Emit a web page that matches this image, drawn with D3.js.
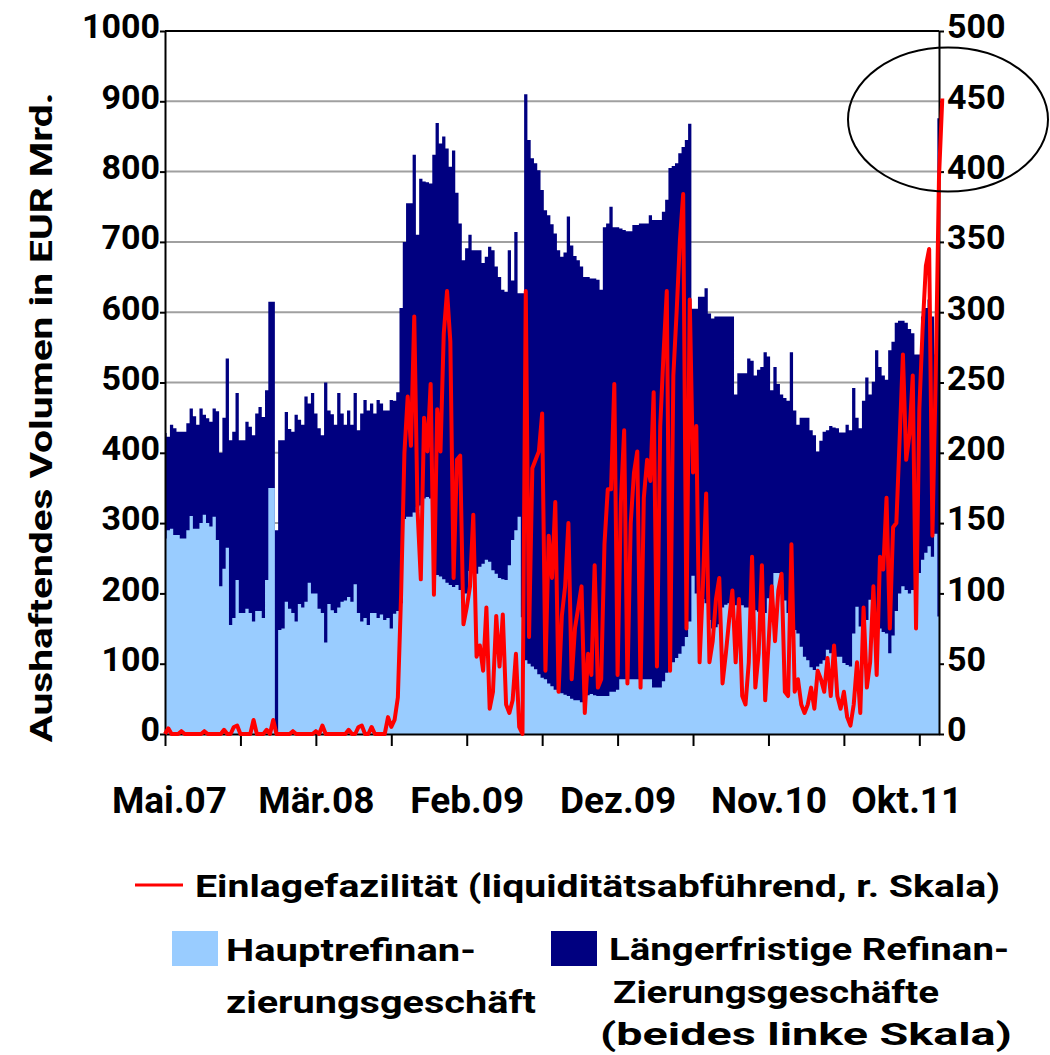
<!DOCTYPE html>
<meta charset="utf-8">

<!-- Load d3.js -->
<script src="https://d3js.org/d3.v7.min.js"></script>

<style>
  body { margin: 0; background: #fff; }
  svg text { font-family: Roboto, "Liberation Sans", sans-serif; font-weight: bold; fill: #000; }
</style>

<!-- Create a div where the graph will take place -->
<div id="my_dataviz"></div>

<script>
// weekly readings, May 2007 .. Dec 2011 (one value per week)
// top of the stack: Hauptrefinanzierung + laengerfristige Geschaefte (EUR Mrd., left scale)
var refiGesamt = [
  428, 423, 440, 435, 430, 430, 430, 442, 463, 452,
  440, 463, 454, 449, 444, 463, 459, 400, 450, 534,
  418, 430, 485, 418, 418, 444, 437, 425, 456, 465,
  451, 489, 615, 615, 290, 418, 418, 458, 434, 430,
  454, 447, 440, 480, 470, 485, 456, 435, 425, 500,
  460, 455, 440, 485, 456, 440, 460, 440, 485, 432,
  456, 475, 460, 470, 456, 475, 470, 460, 460, 475,
  474, 486, 606, 700, 755, 755, 824, 710, 790, 786,
  785, 783, 824, 869, 840, 850, 833, 807, 830, 770,
  726, 674, 691, 710, 688, 688, 688, 670, 679, 693,
  688, 665, 650, 632, 629, 688, 645, 714, 627, 627,
  910, 845, 819, 812, 802, 774, 745, 738, 725, 712,
  688, 679, 685, 736, 695, 680, 674, 665, 650, 650,
  648, 648, 646, 632, 721, 726, 750, 721, 721, 719,
  717, 715, 715, 724, 724, 726, 726, 726, 738, 731,
  731, 731, 743, 760, 805, 808, 812, 826, 835, 845,
  868, 605, 605, 622, 622, 634, 598, 591, 594, 594,
  594, 594, 594, 594, 483, 513, 513, 513, 534, 531,
  510, 518, 522, 543, 537, 489, 522, 498, 483, 478,
  474, 543, 460, 440, 450, 450, 450, 432, 425, 402,
  417, 430, 432, 438, 436, 435, 429, 429, 440, 432,
  492, 450, 435, 474, 507, 483, 501, 546, 522, 510,
  504, 546, 558, 585, 588, 588, 585, 576, 570, 540,
  540, 594, 606, 618, 594, 540, 876
];

// Hauptrefinanzierungsgeschaeft (EUR Mrd., left scale)
var hauptRefi = [
  278, 290, 292, 283, 283, 278, 278, 290, 310, 292,
  292, 300, 312, 300, 295, 309, 276, 210, 235, 265,
  155, 165, 219, 172, 172, 178, 172, 160, 175, 175,
  165, 219, 350, 350, 3, 148, 150, 188, 178, 172,
  160, 185, 180, 188, 215, 200, 200, 178, 172, 130,
  185, 176, 172, 180, 188, 190, 195, 188, 213, 172,
  160, 165, 155, 172, 172, 165, 170, 162, 165, 150,
  171, 175, 186, 306, 309, 309, 315, 323, 325, 335,
  337, 335, 230, 226, 224, 220, 215, 212, 209, 212,
  205, 200, 200, 232, 236, 228, 238, 242, 248, 245,
  233, 228, 222, 220, 219, 240, 276, 290, 309, 166,
  105, 100, 96, 92, 85, 80, 78, 72, 68, 63,
  60, 58, 56, 54, 50, 48, 48, 45, 45, 55,
  57, 55, 54, 54, 54, 54, 60, 60, 63, 78,
  78, 78, 78, 78, 78, 78, 78, 78, 78, 66,
  66, 66, 75, 87, 95, 102, 108, 114, 125, 138,
  160, 225, 200, 198, 192, 186, 162, 150, 152, 156,
  180, 184, 186, 184, 183, 183, 183, 180, 180, 178,
  176, 174, 172, 172, 193, 193, 229, 229, 219, 190,
  172, 160, 148, 143, 124, 110, 105, 95, 91, 96,
  100, 105, 120, 115, 112, 110, 110, 101, 98, 96,
  143, 181, 153, 158, 162, 191, 160, 153, 150, 145,
  143, 115, 140, 175, 200, 210, 205, 200, 205, 215,
  229, 248, 258, 267, 252, 285, 167
];

// Einlagefazilitaet (EUR Mrd., right scale)
var einlage = [
  0, 4, 0, 0, 0, 2, 0, 0, 0, 0,
  0, 0, 2, 0, 0, 0, 0, 0, 3, 0,
  0, 5, 6, 0, 0, 0, 0, 10, 0, 0,
  0, 3, 0, 10, 0, 0, 0, 0, 0, 2,
  0, 0, 0, 0, 0, 0, 2, 0, 6, 0,
  0, 0, 0, 0, 0, 0, 3, 0, 0, 5,
  6, 0, 0, 5, 0, 0, 0, 0, 12, 5,
  10, 26, 100, 200, 240, 205, 297, 159, 110, 225,
  201, 249, 99, 231, 201, 285, 315, 279, 111, 195,
  198, 78, 90, 105, 156, 55, 63, 45, 90, 18,
  30, 84, 48, 85, 21, 15, 24, 57, 5, 0,
  315, 69, 189, 195, 201, 228, 45, 141, 111, 165,
  30, 84, 105, 150, 39, 75, 90, 105, 15, 57,
  42, 120, 33, 39, 135, 174, 174, 249, 42, 165,
  216, 36, 150, 186, 201, 33, 168, 195, 180, 243,
  48, 219, 270, 315, 45, 255, 300, 351, 384, 75,
  309, 186, 219, 51, 105, 171, 51, 66, 96, 111,
  36, 57, 81, 102, 51, 96, 27, 21, 51, 126,
  33, 57, 120, 24, 63, 105, 66, 102, 114, 30,
  27, 135, 30, 39, 21, 15, 21, 33, 18, 45,
  39, 30, 54, 27, 63, 27, 18, 30, 12, 6,
  21, 51, 15, 90, 33, 51, 105, 42, 126, 117,
  168, 75, 147, 150, 210, 270, 195, 213, 255, 75,
  231, 288, 333, 345, 141, 255, 396, 452
];

// x axis: a tick every 23 weeks, a label every second tick
var xTickWeeks = [0, 23, 46, 69, 92, 115, 138, 161, 184, 207, 230];
var xLabelWeeks = [0, 46, 92, 138, 184, 230];
var xLabels = ["Mai.07", "Mär.08", "Feb.09", "Dez.09", "Nov.10", "Okt.11"];

var leftTicks = [0, 100, 200, 300, 400, 500, 600, 700, 800, 900, 1000];
var rightTicks = [0, 50, 100, 150, 200, 250, 300, 350, 400, 450, 500];

// set the dimensions and margins of the graph
var margin = {top: 31, right: 111, bottom: 321, left: 165},
    width = 1050 - margin.left - margin.right,
    height = 1055 - margin.top - margin.bottom;

var root = d3.select("#my_dataviz")
  .append("svg")
    .attr("width", 1050)
    .attr("height", 1055);

var svg = root.append("g")
    .attr("transform", "translate(" + margin.left + "," + margin.top + ")");

var x = d3.scaleLinear().domain([0, refiGesamt.length - 1]).range([0, width]);
var yL = d3.scaleLinear().domain([0, 1000]).range([height, 0]);
var yR = d3.scaleLinear().domain([0, 500]).range([height, 0]);

// grid lines
svg.selectAll(".grid")
  .data(leftTicks.slice(1, -1))
  .enter().append("line")
    .attr("x1", 0).attr("x2", width)
    .attr("y1", function(d) { return yL(d); })
    .attr("y2", function(d) { return yL(d); })
    .attr("stroke", "#a0a0a0")
    .attr("stroke-width", 2);

// areas: dark = whole stack, light = MRO drawn over it
var area = d3.area()
  .x(function(d, i) { return x(i); })
  .y0(height)
  .y1(function(d) { return yL(d); })
  .curve(d3.curveStep);

svg.append("path").datum(refiGesamt)
  .attr("d", area).attr("fill", "#000080");
svg.append("path").datum(hauptRefi)
  .attr("d", area).attr("fill", "#99ccff");

// top border of plot
svg.append("line")
  .attr("x1", 0).attr("x2", width).attr("y1", 0).attr("y2", 0)
  .attr("stroke", "#000").attr("stroke-width", 2);

function styleAxis(g) {
  g.selectAll("path, line").attr("stroke", "#000").attr("stroke-width", 2);
  g.selectAll("text")
    .attr("font-family", null)
    .style("font-size", "34px");
}

// left axis
svg.append("g")
  .call(d3.axisLeft(yL).tickValues(leftTicks).tickFormat(d3.format("d"))
    .tickSize(5).tickSizeOuter(0).tickPadding(0))
  .call(styleAxis)
  .selectAll("text").attr("dy", "0.2em");

// right axis
svg.append("g")
  .attr("transform", "translate(" + width + ",0)")
  .call(d3.axisRight(yR).tickValues(rightTicks).tickFormat(d3.format("d"))
    .tickSize(5).tickSizeOuter(0).tickPadding(3))
  .call(styleAxis)
  .selectAll("text").attr("dy", "0.2em");

// bottom axis
var xAxis = svg.append("g")
  .attr("transform", "translate(0," + height + ")")
  .call(d3.axisBottom(x).tickValues(xTickWeeks).tickSize(12).tickSizeOuter(0).tickPadding(41)
    .tickFormat(function(d) {
      var k = xLabelWeeks.indexOf(d);
      return k < 0 ? "" : xLabels[k];
    }))
  .call(styleAxis);
xAxis.selectAll("text").style("font-size", "37px")
  .attr("dx", function(d) { return d === 0 ? 4 : (d === 230 ? -13 : 0); });

// deposit facility line (right scale)
var line = d3.line()
  .x(function(d, i) { return x(i); })
  .y(function(d) { return yR(d); });

svg.append("path").datum(einlage)
  .attr("d", line)
  .attr("fill", "none")
  .attr("stroke", "#ff0000")
  .attr("stroke-width", 4)
  .attr("stroke-linejoin", "round");

// circle marking the year-end spike
svg.append("ellipse")
  .attr("cx", x(einlage.length - 2) + 9)
  .attr("cy", yR(437))
  .attr("rx", 100).attr("ry", 72)
  .attr("fill", "none")
  .attr("stroke", "#000")
  .attr("stroke-width", 2);

// y axis title
root.append("text")
  .attr("transform", "translate(52," + (margin.top + height / 2 + 35) + ") rotate(-90)")
  .attr("text-anchor", "middle")
  .attr("textLength", 650)
  .attr("lengthAdjust", "spacingAndGlyphs")
  .style("font-size", "32px")
  .text("Aushaftendes Volumen in EUR Mrd.");

// legend
var legend = root.append("g");
legend.append("line")
  .attr("x1", 135).attr("x2", 183).attr("y1", 885).attr("y2", 885)
  .attr("stroke", "#ff0000").attr("stroke-width", 3);
legend.append("rect")
  .attr("x", 172).attr("y", 931).attr("width", 46).attr("height", 35)
  .attr("fill", "#99ccff");
legend.append("rect")
  .attr("x", 551).attr("y", 931).attr("width", 46).attr("height", 35)
  .attr("fill", "#000080");

var legendTexts = [
  {t: "Einlagefazilität (liquiditätsabführend, r. Skala)", x: 195, y: 897, w: 805},
  {t: "Hauptrefinan-", x: 226, y: 961, w: 250},
  {t: "zierungsgeschäft", x: 226, y: 1013, w: 310},
  {t: "Längerfristige Refinan-", x: 609, y: 960, w: 400},
  {t: "Zierungsgeschäfte", x: 613, y: 1003, w: 326},
  {t: "(beides linke Skala)", x: 600, y: 1045, w: 412}
];
legend.selectAll(".lt")
  .data(legendTexts)
  .enter().append("text")
    .attr("x", function(d) { return d.x; })
    .attr("y", function(d) { return d.y; })
    .attr("textLength", function(d) { return d.w; })
    .attr("lengthAdjust", "spacingAndGlyphs")
    .style("font-size", "31px")
    .text(function(d) { return d.t; });
</script>
